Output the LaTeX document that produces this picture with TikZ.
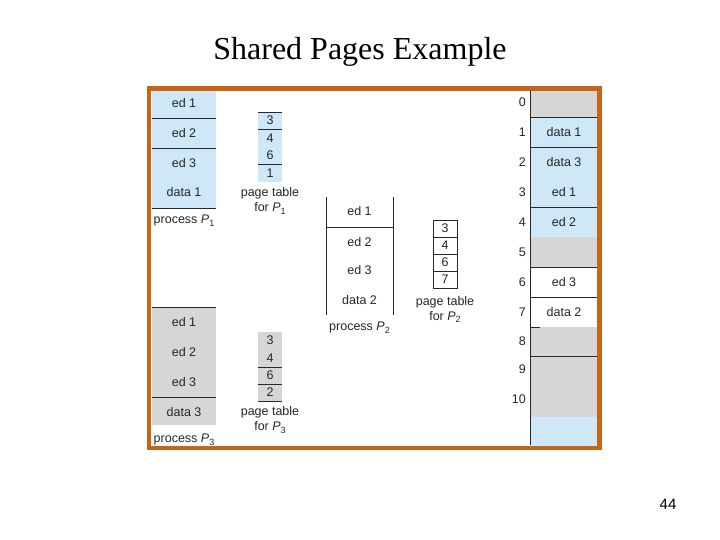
\documentclass[tikz,border=0pt]{standalone}
\usepackage{fontspec}
\setmainfont{Liberation Serif}
\setsansfont{Liberation Sans}
\usepackage{tikz}
\usetikzlibrary{positioning,calc}
\definecolor{framebrown}{RGB}{200, 100, 22}
\definecolor{pageblue}{RGB}{206, 232, 248}
\definecolor{pagegray}{RGB}{214, 214, 214}
\definecolor{rulegray}{RGB}{40, 40, 40}
\newcommand{\procname}[1]{\textit{P}\raisebox{-0.4ex}{\fontsize{9}{9}\selectfont #1}}

\begin{document}
\begin{tikzpicture}[x=1pt,y=-1pt,
    lbl/.style={font=\sffamily\fontsize{12.5}{14}\selectfont,text=black!85,inner sep=0pt},
    tbl/.style={lbl,align=center},
    rule/.style={rulegray,line width=0.8pt}]
    \useasboundingbox (0,0) rectangle (720,540);
    \node[font=\rmfamily\fontsize{32}{36}\selectfont] (title) at (360,52) {Shared Pages Example};

    % Process P1
    \fill[pageblue] (152,90) rectangle (216,208);
    \foreach \y in {118,148,208} \draw[rule] (152,\y) -- (216,\y);
    \node[lbl] (p1ed1) at (184,103) {ed 1};
    \node[lbl] (p1ed2) at (184,133) {ed 2};
    \node[lbl] (p1ed3) at (184,163) {ed 3};
    \node[lbl] (p1data) at (184,192) {data 1};
    \node[lbl] (p1name) at (184,221) {process \procname{1}};

    % Page table for P1
    \fill[pageblue] (258,112) rectangle (282,182);
    \foreach \y in {112,129,164} \draw[rule] (258,\y) -- (282,\y);
    \foreach \n/\y in {3/120.5,4/138,6/155,1/173}
        \node[lbl] (pt1n\n) at (270,\y) {\n};
    \node[tbl] (pt1name) at (270,201) {page table\\[1pt]for \procname{1}};

    % Process P2
    \draw[rule] (326,197) -- (326,315);
    \draw[rule] (393,197) -- (393,315);
    \draw[rule] (326,227) -- (393,227);
    \node[lbl] (p2ed1) at (359.5,211) {ed 1};
    \node[lbl] (p2ed2) at (359.5,242) {ed 2};
    \node[lbl] (p2ed3) at (359.5,270) {ed 3};
    \node[lbl] (p2data) at (359.5,300) {data 2};
    \node[lbl] (p2name) at (359.5,328) {process \procname{2}};

    % Page table for P2
    \foreach \n/\y in {3/220,4/237,6/254,7/271} {
        \draw[rule] (433,\y) rectangle (457,\y+17);
        \node[lbl] (pt2n\n) at (445,\y+8.5) {\n};
    }
    \node[tbl] (pt2name) at (445,309.5) {page table\\[1pt]for \procname{2}};

    % Process P3
    \fill[pagegray] (152,307) rectangle (216,425);
    \foreach \y in {307,397} \draw[rule] (152,\y) -- (216,\y);
    \node[lbl] (p3ed1) at (184,322) {ed 1};
    \node[lbl] (p3ed2) at (184,352) {ed 2};
    \node[lbl] (p3ed3) at (184,382) {ed 3};
    \node[lbl] (p3data) at (184,412) {data 3};
    \node[lbl] (p3name) at (184,440) {process \procname{3}};

    % Page table for P3
    \fill[pagegray] (258,332) rectangle (282,401);
    \foreach \y in {367,384,401} \draw[rule] (258,\y) -- (282,\y);
    \foreach \n/\y in {3/340.5,4/358,6/375.5,2/392.5}
        \node[lbl] (pt3n\n) at (270,\y) {\n};
    \node[tbl] (pt3name) at (270,420) {page table\\[1pt]for \procname{3}};

    % Physical memory
    \fill[pagegray] (530,90) rectangle (598,117);
    \fill[pageblue] (530,117) rectangle (598,237);
    \fill[pagegray] (530,237) rectangle (598,267);
    \fill[pagegray] (530,327) rectangle (598,417);
    \fill[pageblue] (530,417) rectangle (598,446);
    \foreach \y in {117,147,207,267,297,356} \draw[rule] (530,\y) -- (598,\y);
    \draw[rule] (530,327) -- (540,327);
    \draw[rule] (530,90) -- (530,445);
    \node[lbl] (m1) at (564,132) {data 1};
    \node[lbl] (m2) at (564,162) {data 3};
    \node[lbl] (m3) at (564,192) {ed 1};
    \node[lbl] (m4) at (564,222) {ed 2};
    \node[lbl] (m6) at (564,282) {ed 3};
    \node[lbl] (m7) at (564,312) {data 2};
    \foreach \f/\y in {0/102,1/132,2/162,3/192,4/222,5/252,6/282,7/312,8/341,9/369,10/399}
        \node[lbl,anchor=east] (fn\f) at (526,\y) {\f};

    % Outer frame
    \draw[framebrown,line width=4.5pt] (149,88.5) rectangle (599.5,448);

    \node[font=\sffamily\fontsize{15}{18}\selectfont] (pagenum) at (668,504) {44};
\end{tikzpicture}
\end{document}
